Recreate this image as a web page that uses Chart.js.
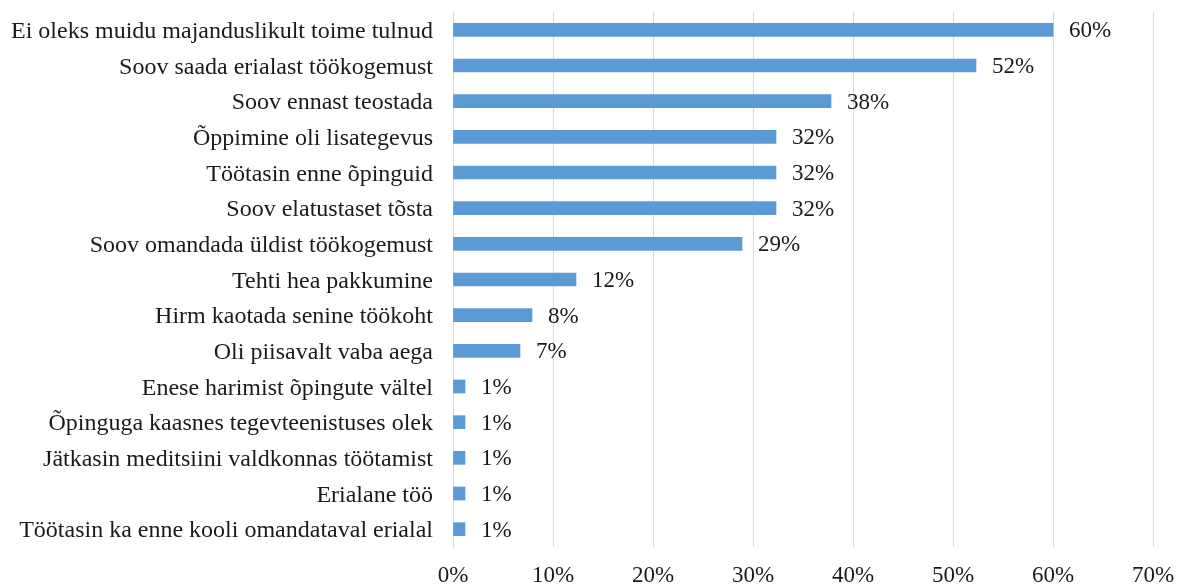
<!DOCTYPE html>
<html>
<head>
<meta charset="utf-8">
<script src="https://cdn.jsdelivr.net/npm/chart.js@4/dist/chart.umd.min.js"></script>
<style>
html,body{margin:0;padding:0;background:#fff;}
#wrap{width:1180px;height:585px;position:relative;}
</style>
</head>
<body>
<div id="wrap"><canvas id="c" width="1180" height="585"></canvas></div>
<script>
const categories = [
  "Ei oleks muidu majanduslikult toime tulnud",
  "Soov saada erialast töökogemust",
  "Soov ennast teostada",
  "Õppimine oli lisategevus",
  "Töötasin enne õpinguid",
  "Soov elatustaset tõsta",
  "Soov omandada üldist töökogemust",
  "Tehti hea pakkumine",
  "Hirm kaotada senine töökoht",
  "Oli piisavalt vaba aega",
  "Enese harimist õpingute vältel",
  "Õpinguga kaasnes tegevteenistuses olek",
  "Jätkasin meditsiini valdkonnas töötamist",
  "Erialane töö",
  "Töötasin ka enne kooli omandataval erialal"
];
const values = [60.0, 52.3, 37.8, 32.3, 32.3, 32.3, 28.9, 12.3, 7.9, 6.7, 1.2, 1.2, 1.2, 1.2, 1.2];
const xTicks = [0, 10, 20, 30, 40, 50, 60, 70];

const FONT = "'Liberation Serif', 'Times New Roman', serif";
const TEXT = "#1a1a1a";
const FSIZE = 23;

const valueLabels = {
  id: 'valueLabels',
  afterDatasetsDraw(chart) {
    const ctx = chart.ctx;
    const meta = chart.getDatasetMeta(0);
    ctx.save();
    ctx.font = FSIZE + "px " + FONT;
    ctx.fillStyle = TEXT;
    ctx.textAlign = 'left';
    ctx.textBaseline = 'middle';
    meta.data.forEach((bar, i) => {
      ctx.fillText(Math.round(values[i]) + '%', bar.x + 16, bar.y + 1.5);
    });
    ctx.restore();
  }
};

new Chart(document.getElementById('c'), {
  type: 'bar',
  data: {
    labels: categories,
    datasets: [{
      data: values,
      backgroundColor: '#5B9BD5',
      borderWidth: 0,
      barThickness: 13
    }]
  },
  options: {
    indexAxis: 'y',
    responsive: false,
    animation: false,
    layout: { padding: { top: 12, right: 27, left: 0, bottom: 0 } },
    plugins: { legend: { display: false }, tooltip: { enabled: false } },
    scales: {
      x: {
        min: 0, max: 70,
        afterBuildTicks(axis) { axis.ticks = xTicks.map(v => ({ value: v })); },
        afterFit(axis) { axis.height = 38; axis.paddingLeft = 0; axis.paddingRight = 0; },
        grid: { color: '#d9d9d9', lineWidth: 1, drawTicks: false },
        border: { display: false },
        ticks: {
          padding: 15,
          maxRotation: 0,
          color: TEXT,
          font: { family: FONT, size: FSIZE },
          callback: v => v + '%'
        }
      },
      y: {
        afterFit(axis) { axis.width = 453; axis.paddingTop = 0; axis.paddingBottom = 0; },
        grid: { display: false, drawTicks: false },
        border: { display: true, color: '#d9d9d9', width: 1 },
        ticks: {
          padding: 20,
          labelOffset: 2,
          autoSkip: false,
          color: TEXT,
          font: { family: FONT, size: 24 }
        }
      }
    }
  },
  plugins: [valueLabels]
});
</script>
</body>
</html>
